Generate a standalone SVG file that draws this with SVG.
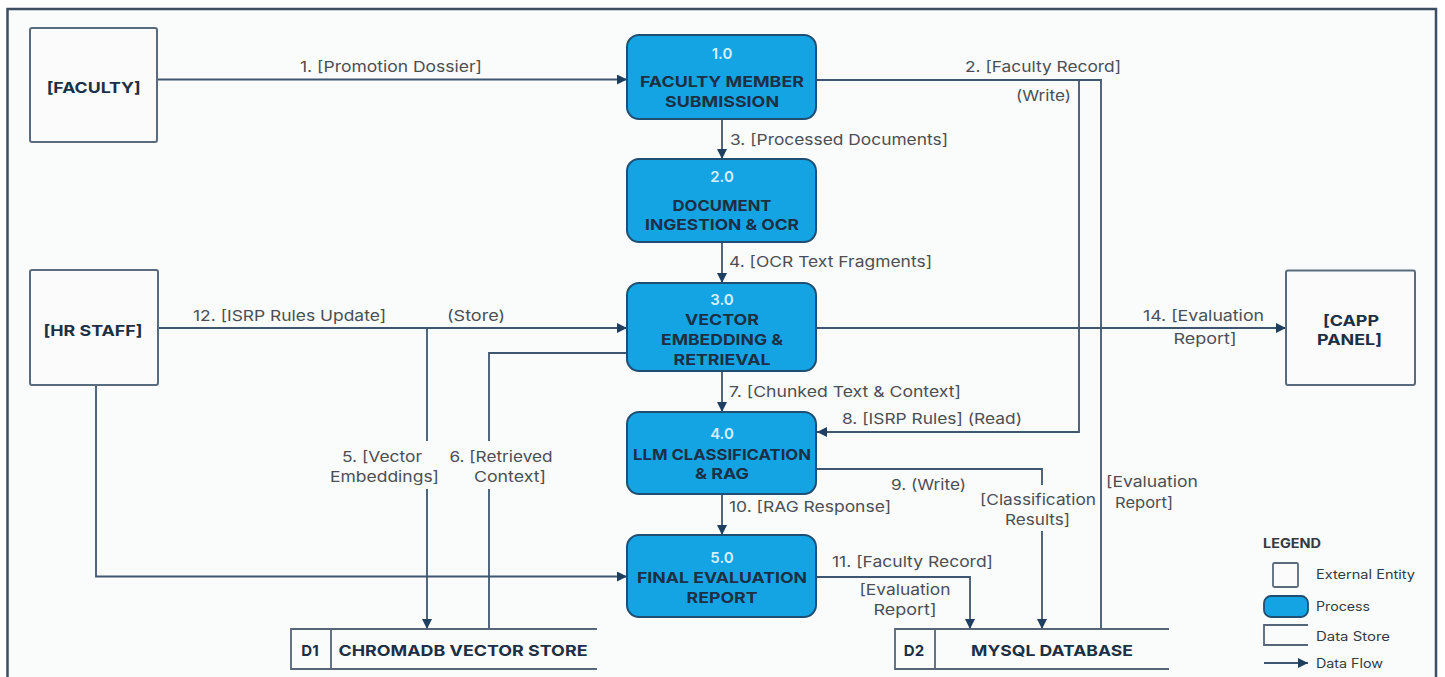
<svg xmlns="http://www.w3.org/2000/svg" width="1445" height="677" viewBox="0 0 1445 677">
<defs>
<marker id="arr" viewBox="0 0 10 10" refX="10" refY="5" markerWidth="11" markerHeight="10" markerUnits="userSpaceOnUse" orient="auto">
<path d="M0,0 L10,5 L0,10 z" fill="#1e3f5f"/>
</marker>
<style>
.ext{fill:#fbfbfc;stroke:#5a6b7d;stroke-width:2}
.proc{fill:#14a4e4;stroke:#1f4e73;stroke-width:2}
.ds{fill:none;stroke:#56657a;stroke-width:1.8}
.flow{fill:none;stroke:#3f5670;stroke-width:1.8}
.fa{marker-end:url(#arr)}
.lbl{font-family:Inter,"Liberation Sans",sans-serif;font-size:15px;fill:#4b4f55}
.nt{font-family:Inter,"Liberation Sans",sans-serif;font-size:15px;font-weight:700;fill:#1c2f44;text-anchor:middle}
.num{font-family:Inter,"Liberation Sans",sans-serif;font-size:15px;font-weight:600;fill:#d4f0ff;text-anchor:middle}
.mid{text-anchor:middle}
.lg{font-family:Inter,"Liberation Sans",sans-serif;font-size:12.5px;fill:#333a42}
</style>
</defs>
<rect x="0" y="0" width="1445" height="677" fill="#ffffff"/>
<rect x="7.5" y="9" width="1428.5" height="700" fill="#fafbfb" stroke="#3d4e63" stroke-width="2.5"/>

<g id="connectors">
<path class="flow fa" d="M157,79.5 H627"/>
<path class="flow" d="M816,80 H1101 V629"/>
<path class="flow fa" d="M1079,80 V432 H817"/>
<path class="flow fa" d="M722,119 V159"/>
<path class="flow fa" d="M722,242 V283"/>
<path class="flow fa" d="M158,328 H627"/>
<path class="flow" d="M427,328 V441"/>
<path class="flow fa" d="M427,489 V629"/>
<path class="flow" d="M627,353 H489 V441"/>
<path class="flow" d="M489,489 V629"/>
<path class="flow fa" d="M816,328 H1286"/>
<path class="flow fa" d="M722,371 V412"/>
<path class="flow" d="M816,469 H1042 V485"/>
<path class="flow fa" d="M1042,531 V629"/>
<path class="flow fa" d="M722,494 V535"/>
<path class="flow fa" d="M96,385 V576.5 H627"/>
<path class="flow fa" d="M816,577 H970 V629"/>
</g>

<g id="flow-labels">
<text class="lbl mid" x="391" y="71.5" textLength="182" lengthAdjust="spacingAndGlyphs">1. [Promotion Dossier]</text>
<text class="lbl mid" x="1043" y="72" textLength="156" lengthAdjust="spacingAndGlyphs">2. [Faculty Record]</text>
<text class="lbl mid" x="1043.5" y="100.5" textLength="55" lengthAdjust="spacingAndGlyphs">(Write)</text>
<text class="lbl" x="730" y="144.5" textLength="218" lengthAdjust="spacingAndGlyphs">3. [Processed Documents]</text>
<text class="lbl" x="729" y="267" textLength="203" lengthAdjust="spacingAndGlyphs">4. [OCR Text Fragments]</text>
<text class="lbl" x="193" y="321" textLength="193" lengthAdjust="spacingAndGlyphs">12. [ISRP Rules Update]</text>
<text class="lbl" x="447" y="321" textLength="58" lengthAdjust="spacingAndGlyphs">(Store)</text>
<text class="lbl mid" x="1203.5" y="320.5" textLength="121" lengthAdjust="spacingAndGlyphs">14. [Evaluation</text>
<text class="lbl mid" x="1205" y="343.5" textLength="63" lengthAdjust="spacingAndGlyphs">Report]</text>
<text class="lbl" x="729" y="396.5" textLength="232" lengthAdjust="spacingAndGlyphs">7. [Chunked Text &amp; Context]</text>
<text class="lbl" x="842" y="423.5" textLength="180" lengthAdjust="spacingAndGlyphs">8. [ISRP Rules] (Read)</text>
<text class="lbl mid" x="382" y="462" textLength="80" lengthAdjust="spacingAndGlyphs">5. [Vector</text>
<text class="lbl mid" x="384.5" y="482" textLength="109" lengthAdjust="spacingAndGlyphs">Embeddings]</text>
<text class="lbl mid" x="501" y="462" textLength="103" lengthAdjust="spacingAndGlyphs">6. [Retrieved</text>
<text class="lbl mid" x="510" y="482" textLength="72" lengthAdjust="spacingAndGlyphs">Context]</text>
<text class="lbl" x="891" y="489.5" textLength="75" lengthAdjust="spacingAndGlyphs">9. (Write)</text>
<text class="lbl mid" x="1038" y="504.5" textLength="116" lengthAdjust="spacingAndGlyphs">[Classification</text>
<text class="lbl mid" x="1037.5" y="524.5" textLength="65" lengthAdjust="spacingAndGlyphs">Results]</text>
<text class="lbl mid" x="1152" y="487" textLength="92" lengthAdjust="spacingAndGlyphs">[Evaluation</text>
<text class="lbl mid" x="1144" y="507.5" textLength="58" lengthAdjust="spacingAndGlyphs">Report]</text>
<text class="lbl" x="729" y="512" textLength="162" lengthAdjust="spacingAndGlyphs">10. [RAG Response]</text>
<text class="lbl" x="832" y="567" textLength="161" lengthAdjust="spacingAndGlyphs">11. [Faculty Record]</text>
<text class="lbl mid" x="905" y="594.5" textLength="91" lengthAdjust="spacingAndGlyphs">[Evaluation</text>
<text class="lbl mid" x="905" y="614.5" textLength="63" lengthAdjust="spacingAndGlyphs">Report]</text>
</g>

<g id="faculty">
<rect class="ext" x="30" y="28" width="127" height="114" rx="2"/>
<text class="nt" x="93.7" y="92.8" textLength="94" lengthAdjust="spacingAndGlyphs">[FACULTY]</text>
</g>
<g id="hr-staff">
<rect class="ext" x="30" y="270" width="128" height="115" rx="2"/>
<text class="nt" x="93" y="335.5" textLength="99" lengthAdjust="spacingAndGlyphs">[HR STAFF]</text>
</g>
<g id="capp-panel">
<rect class="ext" x="1286" y="270.5" width="129" height="114.5" rx="2"/>
<text class="nt" x="1351" y="325.5" textLength="56" lengthAdjust="spacingAndGlyphs">[CAPP</text>
<text class="nt" x="1349.5" y="344.5" textLength="65" lengthAdjust="spacingAndGlyphs">PANEL]</text>
</g>

<g id="p1">
<rect class="proc" x="627" y="35" width="189" height="84" rx="12"/>
<text class="num" x="722" y="58.5">1.0</text>
<text class="nt" x="722" y="87" textLength="164" lengthAdjust="spacingAndGlyphs">FACULTY MEMBER</text>
<text class="nt" x="722" y="106.5" textLength="114" lengthAdjust="spacingAndGlyphs">SUBMISSION</text>
</g>
<g id="p2">
<rect class="proc" x="627" y="159" width="189" height="83" rx="12"/>
<text class="num" x="722" y="182">2.0</text>
<text class="nt" x="722" y="210.5" textLength="99" lengthAdjust="spacingAndGlyphs">DOCUMENT</text>
<text class="nt" x="722" y="230" textLength="154" lengthAdjust="spacingAndGlyphs">INGESTION &amp; OCR</text>
</g>
<g id="p3">
<rect class="proc" x="627" y="283" width="189" height="88" rx="12"/>
<text class="num" x="722" y="304.5">3.0</text>
<text class="nt" x="722" y="324.5" textLength="74" lengthAdjust="spacingAndGlyphs">VECTOR</text>
<text class="nt" x="722" y="344.5" textLength="122" lengthAdjust="spacingAndGlyphs">EMBEDDING &amp;</text>
<text class="nt" x="722" y="364.5" textLength="97" lengthAdjust="spacingAndGlyphs">RETRIEVAL</text>
</g>
<g id="p4">
<rect class="proc" x="627" y="412" width="189" height="82" rx="12"/>
<text class="num" x="722" y="438.5">4.0</text>
<text class="nt" x="722" y="459.5" textLength="178" lengthAdjust="spacingAndGlyphs">LLM CLASSIFICATION</text>
<text class="nt" x="722" y="478.5" textLength="54" lengthAdjust="spacingAndGlyphs">&amp; RAG</text>
</g>
<g id="p5">
<rect class="proc" x="627" y="535" width="189" height="82" rx="12"/>
<text class="num" x="722" y="562.5">5.0</text>
<text class="nt" x="722" y="582.5" textLength="170" lengthAdjust="spacingAndGlyphs">FINAL EVALUATION</text>
<text class="nt" x="722" y="602.5" textLength="71" lengthAdjust="spacingAndGlyphs">REPORT</text>
</g>

<g id="d1">
<path class="ds" d="M597,629 H291 V669 H597 M331,629 V669"/>
<text class="nt" x="310" y="655.5">D1</text>
<text class="nt" x="463" y="655.5" textLength="249" lengthAdjust="spacingAndGlyphs">CHROMADB VECTOR STORE</text>
</g>
<g id="d2">
<path class="ds" d="M1169,629 H895 V669 H1169 M935,629 V669"/>
<text class="nt" x="914" y="655.5">D2</text>
<text class="nt" x="1052" y="655.5" textLength="162" lengthAdjust="spacingAndGlyphs">MYSQL DATABASE</text>
</g>

<g id="legend">
<text class="lg" x="1263" y="547.5" font-weight="700" font-size="12" fill="#1c2f44" textLength="58" lengthAdjust="spacingAndGlyphs">LEGEND</text>
<rect class="ext" x="1273" y="563" width="25" height="24" rx="1.5" style="stroke-width:1.8"/>
<text class="lg" x="1316" y="578.5" textLength="99" lengthAdjust="spacingAndGlyphs">External Entity</text>
<rect class="proc" x="1264" y="596" width="44" height="21" rx="7" style="stroke-width:1.8"/>
<text class="lg" x="1316" y="610.5" textLength="54" lengthAdjust="spacingAndGlyphs">Process</text>
<path class="ds" d="M1308,625 H1264 V645 H1308"/>
<text class="lg" x="1316" y="641" textLength="74" lengthAdjust="spacingAndGlyphs">Data Store</text>
<path class="flow fa" d="M1264,663 H1308"/>
<text class="lg" x="1316" y="667.5" textLength="67" lengthAdjust="spacingAndGlyphs">Data Flow</text>
</g>
</svg>
